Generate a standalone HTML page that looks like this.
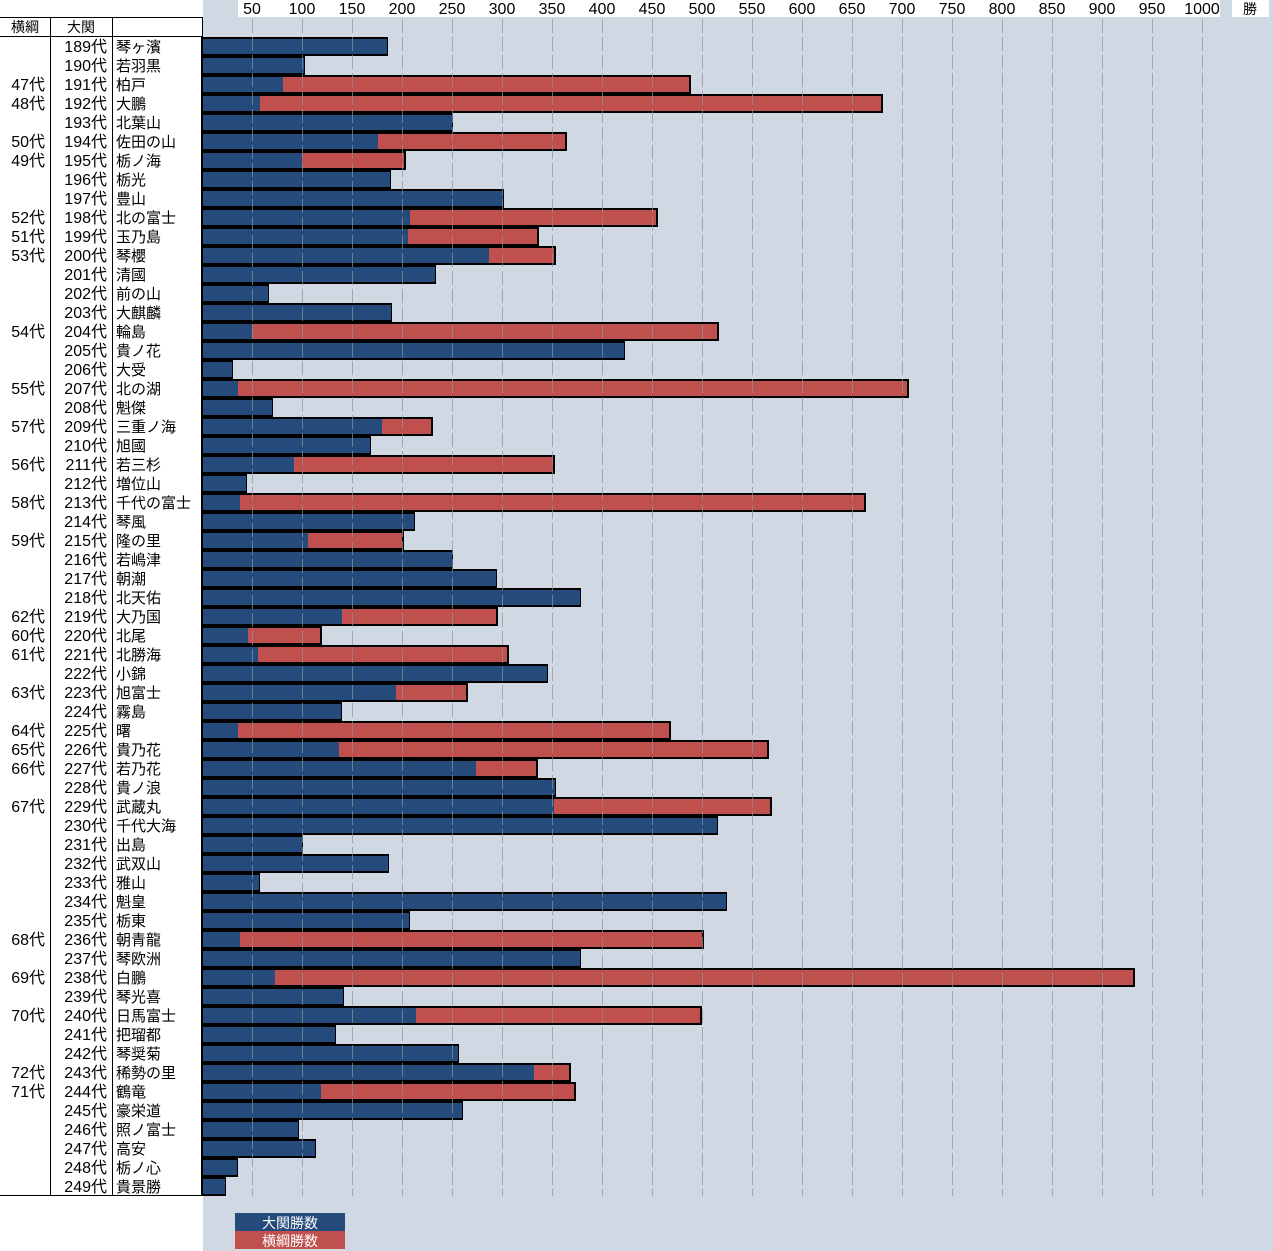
<!DOCTYPE html>
<html><head><meta charset="utf-8"><style>
body{margin:0;width:1273px;height:1251px;overflow:hidden;background:#fff;font-family:"Liberation Sans","Noto Sans CJK JP",sans-serif}
svg{display:block}
</style></head><body>
<svg id="c" width="1273" height="1251" xmlns="http://www.w3.org/2000/svg" font-family="Liberation Sans, Noto Sans CJK JP, sans-serif"></svg>
<script>
const ozekiNo=[189,190,191,192,193,194,195,196,197,198,199,200,201,202,203,204,205,206,207,208,209,210,211,212,213,214,215,216,217,218,219,220,221,222,223,224,225,226,227,228,229,230,231,232,233,234,235,236,237,238,239,240,241,242,243,244,245,246,247,248,249];
const names=["琴ヶ濱","若羽黒","柏戸","大鵬","北葉山","佐田の山","栃ノ海","栃光","豊山","北の富士","玉乃島","琴櫻","清國","前の山","大麒麟","輪島","貴ノ花","大受","北の湖","魁傑","三重ノ海","旭國","若三杉","増位山","千代の富士","琴風","隆の里","若嶋津","朝潮","北天佑","大乃国","北尾","北勝海","小錦","旭富士","霧島","曙","貴乃花","若乃花","貴ノ浪","武蔵丸","千代大海","出島","武双山","雅山","魁皇","栃東","朝青龍","琴欧洲","白鵬","琴光喜","日馬富士","把瑠都","琴奨菊","稀勢の里","鶴竜","豪栄道","照ノ富士","高安","栃ノ心","貴景勝"];
const yokozunaNo=[null,null,47,48,null,50,49,null,null,52,51,53,null,null,null,54,null,null,55,null,57,null,56,null,58,null,59,null,null,null,62,60,61,null,63,null,64,65,66,null,67,null,null,null,null,null,null,68,null,69,null,70,null,null,72,71,null,null,null,null,null];
const ozekiWins=[185,102,81,58,250,176,100,188,301,208,206,287,233,66,189,50,422,30,36,70,180,168,92,44,38,212,106,250,294,378,140,46,56,345,194,139,36,137,274,353,352,515,100,186,57,524,207,38,378,73,141,214,133,256,332,119,260,96,113,35,23];
const yokozunaWins=[0,0,407,622,0,188,103,0,0,247,130,66,0,0,0,466,0,0,670,0,50,0,260,0,625,0,95,0,0,0,155,73,250,0,71,0,432,429,61,0,217,0,0,0,0,0,0,463,0,859,0,285,0,0,36,254,0,0,0,0,0];
const ticks=[50,100,150,200,250,300,350,400,450,500,550,600,650,700,750,800,850,900,950,1000];

const svg=document.getElementById('c');
const NS='http://www.w3.org/2000/svg';
function el(t,a,p){const e=document.createElementNS(NS,t);for(const k in a)e.setAttribute(k,a[k]);(p||svg).appendChild(e);return e;}
const X0=202, rowTop=37, rowH=19;
const xs=v=>X0+v;
const ys=i=>rowTop+i*rowH;

let bg=el('rect',{x:203,y:0,width:1070,height:1251,fill:'#d0d8e4'});


let ax=el('rect',{x:238,y:0,width:982,height:17,fill:'#fff'});


let ub=el('rect',{x:1232,y:0,width:37,height:17,fill:'#fff'});


let ut=el('text',{x:1250,y:14,'font-size':14,'text-anchor':'middle',fill:'#000'});ut.textContent='勝';



ticks.forEach(t=>{
 const tl=el('text',{x:xs(t),y:14,'font-size':16,'text-anchor':'middle',fill:'#000'});tl.textContent=t;
 
 
});

let tb=el('g',{});


el('line',{x1:0,y1:17.5,x2:203,y2:17.5,stroke:'#000'},tb);
el('line',{x1:0,y1:36.5,x2:203,y2:36.5,stroke:'#000'},tb);
el('line',{x1:0,y1:1195.5,x2:203,y2:1195.5,stroke:'#000'},tb);
el('line',{x1:50.5,y1:17,x2:50.5,y2:1196,stroke:'#000'},tb);
el('line',{x1:112.5,y1:17,x2:112.5,y2:1196,stroke:'#000'},tb);
el('line',{x1:202.5,y1:17,x2:202.5,y2:1196,stroke:'#000'},tb);
let h1=el('text',{x:25,y:32,'font-size':14,'text-anchor':'middle'},tb);h1.textContent='横綱';


let h2=el('text',{x:81,y:32,'font-size':14,'text-anchor':'middle'},tb);h2.textContent='大関';



ozekiNo.forEach((n,i)=>{
 const y=ys(i)+15;
 if(yokozunaNo[i]!==null){const t=el('text',{x:45,y:y,'font-size':16,'text-anchor':'end'},tb);t.textContent=yokozunaNo[i]+'代';
  
  }
 const a=el('text',{x:107,y:y,'font-size':16,'text-anchor':'end'},tb);a.textContent=n+'代';
 
 
 const b=el('text',{x:116,y:y,'font-size':15},tb);b.textContent=names[i];
 
 
});

ozekiNo.forEach((n,i)=>{
 const y=ys(i)+1,h=rowH-2;
 const tot=ozekiWins[i]+yokozunaWins[i];
 const o=el('rect',{x:xs(0),y:y,width:tot?xs(tot)-xs(0):0,height:h,fill:'#c0504d',stroke:'#000','stroke-width':2});
 
 
 const b=el('rect',{x:xs(0)+1,y:y+1,width:xs(ozekiWins[i])-xs(0)-1,height:h-2,fill:'#254a7c'});
 
 
 if(yokozunaWins[i]>0){
  const r=el('rect',{x:xs(ozekiWins[i]),y:y+1,width:xs(tot)-xs(ozekiWins[i])-1,height:h-2,fill:'#c0504d'});
  
  
 }
});
ticks.forEach(t=>{
 const g=el('line',{x1:xs(t)+0.5,y1:19,x2:xs(t)+0.5,y2:1196,stroke:'#8e949c','stroke-width':1,'stroke-dasharray':'14 4',opacity:0.7});
 
 
});

let lg=el('g',{});


el('rect',{x:235,y:1213,width:110,height:18,fill:'#254a7c'},lg);
el('rect',{x:235,y:1231,width:110,height:18,fill:'#c0504d'},lg);
let l1=el('text',{x:290,y:1228,'font-size':14,'text-anchor':'middle',fill:'#fff'},lg);l1.textContent='大関勝数';


let l2=el('text',{x:290,y:1246,'font-size':14,'text-anchor':'middle',fill:'#fff'},lg);l2.textContent='横綱勝数';


</script>
</body></html>
